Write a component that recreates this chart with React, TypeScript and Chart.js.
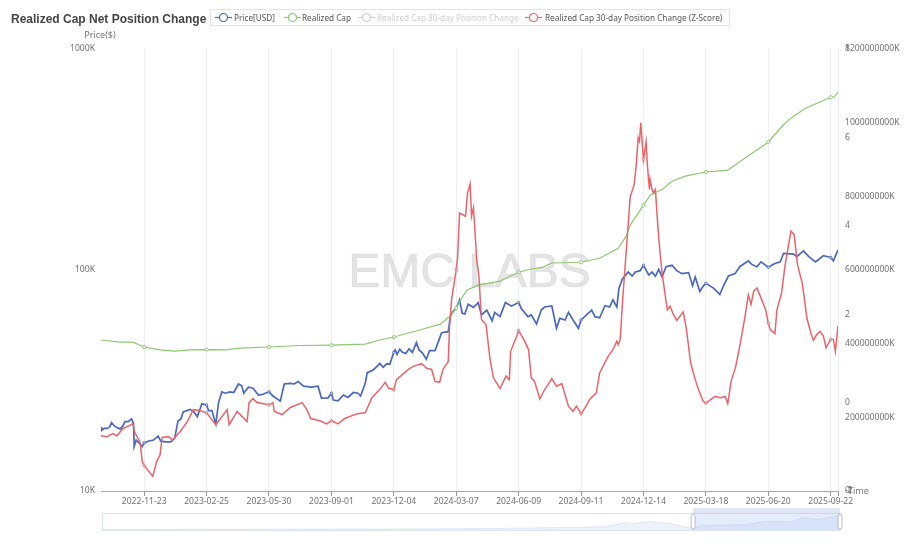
// App.tsx
import React, { useEffect, useRef } from "react";
import { Chart, registerables } from "chart.js";

Chart.register(...registerables);

const FONT = '"Noto Sans", sans-serif';
const START_DATE = Date.UTC(2022, 8, 19);
const LAST_DAY = 1110;

// x values are days since START_DATE
const tickDays = [65, 159, 253, 347, 441, 535, 629, 723, 817, 911, 1005, 1099];
const priceTicks = [10, 100, 1000];

const priceDays = [
	0, 1, 5, 9, 13, 16, 20, 25, 29, 33,
	36, 41, 46, 49, 50, 53, 58, 62, 65, 71,
	79, 86, 90, 98, 105, 111, 116, 120, 124, 134,
	140, 145, 152, 159, 162, 167, 173, 177, 182, 187,
	194, 200, 207, 212, 215, 222, 229, 237, 244, 253,
	259, 270, 276, 285, 291, 297, 305, 317, 327, 332,
	342, 347, 350, 357, 365, 372, 380, 387, 391, 398,
	401, 410, 418, 420, 425, 430, 435, 441, 443, 446,
	450, 454, 459, 464, 469, 475, 479, 484, 490, 495,
	503, 508, 513, 523, 526, 530, 535, 540, 544, 548,
	553, 561, 568, 573, 581, 589, 593, 601, 609, 618,
	629, 633, 643, 648, 656, 663, 668, 679, 686, 691,
	699, 704, 711, 719, 723, 739, 744, 751, 759, 766,
	771, 777, 780, 785, 794, 800, 805, 812, 817, 825,
	830, 835, 840, 845, 851, 860, 867, 875, 885, 891,
	895, 902, 907, 911, 923, 932, 938, 945, 955, 962,
	975, 980, 988, 994, 1005, 1015, 1023, 1028, 1043, 1048,
	1058, 1066, 1076, 1088, 1099, 1103, 1110,
];
const priceValues = [
	19.5, 18.8, 19.2, 19.2, 19.5, 20.4, 19.7, 19.3, 19.1, 19.7,
	20.6, 20.6, 21.2, 20.2, 15.9, 17, 16.4, 15.9, 16.5, 16.8,
	17, 17.7, 16.8, 16.7, 16.7, 17.3, 20.8, 21.1, 22.8, 23.4,
	22.8, 21.7, 24.8, 24.5, 23.1, 23.1, 20.1, 25.1, 28.1, 27.7,
	28.1, 27.9, 30.5, 29.9, 27.7, 29.5, 29.2, 27.2, 27.4, 28.1,
	26.9, 25.5, 30.5, 30.7, 30.5, 31.3, 29.8, 29.5, 29.8, 26.3,
	26.4, 27.7, 25.8, 25.6, 27.2, 26.5, 27.9, 27.7, 26.9, 30.7,
	34.3, 35.3, 37.2, 37.8, 36.3, 37.6, 37.5, 42.4, 43.5, 41.5,
	43.8, 42.4, 41.9, 44, 42.4, 46.9, 43.5, 42.2, 39.5, 43.2,
	43.2, 47.3, 52, 52.6, 61.5, 64.8, 67, 73.2, 63.7, 63.2,
	70, 67.7, 71.2, 62.6, 65.9, 59, 64.3, 61.5, 71.2, 68.7,
	71.2, 67, 61.5, 62.6, 57, 65.9, 68, 68.7, 54.5, 60.4,
	59.4, 64.3, 59.4, 54.5, 59.4, 65.9, 61.5, 60.8, 68.9, 68,
	73.2, 68, 82.6, 90.7, 97.9, 93.9, 97.9, 99.3, 105, 94.9,
	97.9, 93.7, 100.7, 92.9, 103.5, 105, 99.3, 96.3, 97.3, 84.9,
	92.9, 80, 84.6, 87, 82.6, 77.5, 85.5, 93.9, 96.3, 103.5,
	110, 106, 103.5, 108.9, 102.9, 107, 108.9, 119, 118, 115,
	122, 115, 108.9, 116, 114, 110, 123,
];

const capDays = [
	0, 29, 48, 65, 89, 111, 134, 159, 187, 209, 253, 300, 347, 398, 420, 441, 480, 511, 526, 535, 541, 551, 568, 601, 629,
	646, 666, 679, 723, 751, 779, 791, 797, 817, 827, 846, 860, 880, 911, 944, 970, 1005, 1027, 1041, 1061, 1099, 1104,
	1110,
];
const capValues = [
	410, 404, 404, 391, 383, 380, 383, 384, 383, 388, 391, 395, 396, 399, 410, 418, 437, 453, 475, 497, 518, 545, 559, 570,
	594, 602, 608, 619, 621, 632, 659, 692, 722, 776, 803, 820, 841, 855, 866, 871, 904, 947, 993, 1015, 1039, 1069, 1069,
	1083,
];

const zDays = [
	0, 9, 18, 24, 33, 48, 51, 59, 62, 65,
	78, 84, 89, 92, 101, 108, 119, 130, 139, 149,
	159, 173, 190, 193, 205, 220, 223, 229, 235, 253,
	259, 261, 273, 285, 303, 310, 316, 330, 340, 347,
	357, 367, 386, 398, 408, 420, 428, 433, 441, 445,
	463, 470, 483, 490, 498, 503, 510, 515, 523, 525,
	528, 535, 537, 540, 545, 549, 552, 556, 558, 561,
	566, 569, 573, 580, 586, 591, 601, 610, 615, 617,
	626, 629, 638, 644, 648, 653, 661, 668, 679, 686,
	694, 704, 711, 716, 723, 729, 736, 746, 751, 764,
	771, 777, 779, 782, 786, 792, 797, 803, 806, 809,
	811, 813, 815, 817, 821, 823, 826, 827, 830, 832,
	835, 838, 840, 842, 845, 850, 853, 857, 861, 867,
	877, 881, 885, 888, 895, 900, 907, 911, 925, 933,
	940, 944, 949, 956, 963, 970, 975, 979, 983, 988,
	995, 1001, 1005, 1008, 1015, 1018, 1025, 1030, 1036, 1039,
	1044, 1049, 1056, 1059, 1063, 1069, 1073, 1078, 1083, 1088,
	1092, 1099, 1103, 1106, 1110,
];
const zValues = [
	-0.75, -0.77, -0.7, -0.75, -0.59, -0.48, -0.68, -0.9, -1.33, -1.42,
	-1.67, -1.33, -1.18, -0.79, -0.77, -0.84, -0.66, -0.43, -0.16, -0.18,
	-0.23, -0.5, -0.16, -0.5, -0.2, -0.43, 0, 0.09, 0, -0.05,
	0, -0.2, -0.27, -0.11, 0, -0.16, -0.36, -0.41, -0.48, -0.41,
	-0.48, -0.36, -0.25, -0.23, 0.11, 0.3, 0.46, 0.33, 0.29, 0.52,
	0.75, 0.82, 0.88, 0.78, 0.75, 0.48, 0.46, 0.75, 0.93, 1.73,
	2.33, 3.01, 3.27, 4.29, 4.25, 4.21, 4.74, 4.95, 4.21, 4.41,
	3.21, 2.9, 1.88, 1.76, 0.97, 0.56, 0.32, 0.6, 0.52, 1.16,
	1.5, 1.63, 1.39, 1.2, 0.56, 0.48, 0.08, 0.29, 0.54, 0.37,
	0.43, -0.08, -0.2, -0.08, -0.25, -0.12, 0.07, 0.22, 0.67, 1.05,
	1.2, 1.39, 1.31, 1.43, 2.4, 3.61, 4.65, 4.93, 5.35, 5.99,
	5.91, 6.33, 5.91, 5.5, 5.9, 5.35, 4.82, 5.05, 4.82, 4.74,
	4.82, 4.14, 3.73, 3.39, 2.94, 2.4, 2.1, 2.18, 2.03, 1.86,
	2.05, 1.73, 1.27, 0.9, 0.52, 0.29, 0.03, -0.01, 0.14, 0.11,
	0.14, -0.02, 0.48, 0.82, 1.35, 1.95, 2.44, 2.22, 2.52, 2.59,
	2.33, 2.1, 1.8, 1.65, 1.56, 2.1, 2.48, 3.08, 3.61, 3.88,
	3.8, 3.12, 2.71, 2.4, 1.92, 1.58, 1.41, 1.54, 1.61, 1.5,
	1.24, 1.43, 1.43, 1.16, 1.74,
];

// navigator strip under the chart, x in percent of the full history
const overviewPercent = [0, 40, 54, 68, 71, 72, 74, 77, 80, 81, 87, 90, 93.6, 95, 97, 100];
const overviewPrice = [4, 8, 12, 24, 57, 49, 65, 49, 12, 32, 40, 65, 65, 97, 81, 113];
const overviewWindow = [80.1, 100];

const legendItems = [
	{ name: "Price[USD]", color: "#4a68bd", left: 4, textLeft: 23 },
	{ name: "Realized Cap", color: "#8cc870", left: 73, textLeft: 91 },
	{ name: "Realized Cap 30-day Position Change", color: "#cfcfcf", textColor: "#d0d0d0", left: 147, textLeft: 166 },
	{ name: "Realized Cap 30-day Position Change (Z-Score)", color: "#e9636b", left: 314, textLeft: 334 },
];

const zip = (xs: number[], ys: number[]) => xs.map((x, i) => ({ x, y: ys[i] }));

const formatDay = (day: number) => new Date(START_DATE + day * 86400000).toISOString().slice(0, 10);

const tickMarker = (size: number) => (ctx: any) => (tickDays.includes(ctx.raw?.x) ? size : 0);

const extrasPlugin = {
	id: "extras",
	afterLayout(chart: any) {
		// the Z-Score axis shares its place with the cap axis, give it room so its labels are not clipped
		chart.scales.z.right = chart.width;
	},
	beforeDatasetsDraw(chart: any) {
		const { ctx, chartArea } = chart;
		ctx.save();
		// watermark
		ctx.font = `48px "Liberation Sans", sans-serif`;
		ctx.fillStyle = "rgba(205,205,205,0.55)";
		ctx.strokeStyle = "rgba(205,205,205,0.55)";
		ctx.lineWidth = 0.7;
		ctx.textAlign = "center";
		ctx.textBaseline = "middle";
		ctx.fillText("EMC LABS", (chartArea.left + chartArea.right) / 2, 274);
		ctx.strokeText("EMC LABS", (chartArea.left + chartArea.right) / 2, 274);
		// axis names
		ctx.font = `9px ${FONT}`;
		ctx.fillStyle = "#777";
		ctx.textAlign = "center";
		ctx.fillText("Price($)", 100, 35);
		ctx.textAlign = "left";
		ctx.fillText("Time", 848, chartArea.bottom);
		ctx.restore();
	},
};

const navigatorPlugin = {
	id: "navigator",
	beforeDatasetsDraw(chart: any) {
		const { ctx, chartArea } = chart;
		ctx.save();
		ctx.strokeStyle = "#dfe3ea";
		ctx.strokeRect(chartArea.left + 0.5, chartArea.top + 0.5, chartArea.right - chartArea.left, chartArea.bottom - chartArea.top);
		ctx.restore();
	},
	afterDatasetsDraw(chart: any) {
		const { ctx, chartArea, scales } = chart;
		const x0 = scales.x.getPixelForValue(overviewWindow[0]);
		const x1 = scales.x.getPixelForValue(overviewWindow[1]);
		ctx.save();
		ctx.fillStyle = "rgba(135,175,244,0.22)";
		ctx.fillRect(x0, chartArea.top, x1 - x0, chartArea.bottom - chartArea.top);
		ctx.fillStyle = "#dfe5f3";
		ctx.fillRect(x0, chartArea.top - 5, x1 - x0, 5);
		[x0, x1].forEach((x) => {
			ctx.beginPath();
			ctx.roundRect(x - 2, chartArea.top + 1, 4, chartArea.bottom - chartArea.top - 2, 2);
			ctx.fillStyle = "#fff";
			ctx.fill();
			ctx.strokeStyle = "#b5bdcc";
			ctx.stroke();
		});
		ctx.restore();
	},
};

const tickFont = { family: FONT, size: 8.6 };

const App: React.FC = () => {
	const chartRef = useRef<HTMLCanvasElement>(null);
	const overviewRef = useRef<HTMLCanvasElement>(null);

	useEffect(() => {
		if (!chartRef.current || !overviewRef.current) return;

		const lineStyle = { fill: false, tension: 0, pointBackgroundColor: "#fff", pointBorderWidth: 1 };

		const myChart = new Chart(chartRef.current, {
			type: "line",
			data: {
				datasets: [
					{
						...lineStyle,
						label: "Price[USD]",
						data: zip(priceDays, priceValues),
						yAxisID: "price",
						borderColor: "#4a68bd",
						borderWidth: 1.7,
						pointRadius: tickMarker(1.2),
						order: 3,
					},
					{
						...lineStyle,
						label: "Realized Cap",
						data: zip(capDays, capValues),
						yAxisID: "cap",
						borderColor: "#8cc870",
						borderWidth: 1.2,
						pointRadius: tickMarker(1.6),
						order: 2,
					},
					{
						label: "Realized Cap 30-day Position Change",
						data: [],
						yAxisID: "z",
						hidden: true,
					},
					{
						...lineStyle,
						label: "Realized Cap 30-day Position Change (Z-Score)",
						data: zip(zDays, zValues),
						yAxisID: "z",
						borderColor: "#e9636b",
						borderWidth: 1.5,
						pointRadius: tickMarker(1.2),
						order: 1,
					},
				],
			},
			options: {
				responsive: false,
				animation: false,
				parsing: false,
				layout: { padding: { top: 49 } },
				plugins: { legend: { display: false }, tooltip: { enabled: false } },
				scales: {
					x: {
						type: "linear",
						min: 0,
						max: LAST_DAY,
						afterBuildTicks: (scale: any) => {
							scale.ticks = [...tickDays, LAST_DAY].map((value) => ({ value }));
						},
						afterFit: (scale: any) => {
							scale.height = 55;
						},
						ticks: {
							autoSkip: false,
							maxRotation: 0,
							minRotation: 0,
							font: tickFont,
							color: "#707070",
							padding: 0,
							callback: (value: any) => (tickDays.includes(value) ? formatDay(value) : ""),
						},
						grid: { color: "#eceef2", tickColor: "#999", tickLength: 5 },
						border: { color: "#a8a8a8" },
					},
					price: {
						type: "logarithmic",
						position: "left",
						min: 10,
						max: 1000,
						afterBuildTicks: (scale: any) => {
							scale.ticks = priceTicks.map((value) => ({ value }));
						},
						afterFit: (scale: any) => {
							scale.width = 101;
						},
						ticks: { font: tickFont, color: "#707070", padding: 6, callback: (value: any) => `${value}K` },
						grid: { display: false, drawTicks: false },
						border: { display: false },
					},
					cap: {
						position: "right",
						min: 0,
						max: 1200,
						afterFit: (scale: any) => {
							scale.width = 66;
						},
						ticks: {
							stepSize: 200,
							font: tickFont,
							color: "#707070",
							padding: 7,
							callback: (value: any) => (value === 0 ? "0" : `${value}000000K`),
						},
						grid: { display: false, drawTicks: false },
						border: { display: false },
					},
					z: {
						position: "right",
						weight: -1,
						min: -2,
						max: 8,
						afterFit: (scale: any) => {
							scale.width = 0;
						},
						ticks: { stepSize: 2, font: tickFont, color: "#707070", padding: 7 },
						grid: { display: false, drawTicks: false },
						border: { display: false },
					},
				},
			},
			plugins: [extrasPlugin],
		} as any);

		const overview = new Chart(overviewRef.current, {
			type: "line",
			data: {
				datasets: [
					{
						data: zip(overviewPercent, overviewPrice),
						borderColor: "rgba(190,205,235,0.6)",
						borderWidth: 0.7,
						backgroundColor: "rgba(205,216,240,0.35)",
						fill: "origin",
						pointRadius: 0,
						tension: 0,
					},
				],
			},
			options: {
				responsive: false,
				animation: false,
				parsing: false,
				layout: { padding: { left: 4, right: 6, top: 8, bottom: 5 } },
				plugins: { legend: { display: false }, tooltip: { enabled: false } },
				scales: {
					x: { type: "linear", display: false, min: 0, max: 100 },
					y: { display: false, min: 0, max: 130 },
				},
			},
			plugins: [navigatorPlugin],
		} as any);

		return () => {
			myChart.destroy();
			overview.destroy();
		};
	}, []);

	return (
		<div style={{ position: "fixed", left: 0, top: 0, width: 904, height: 546, overflow: "hidden", background: "#fff", fontFamily: FONT }}>
			<canvas ref={chartRef} width={904} height={546} style={{ position: "absolute", left: 0, top: 0 }} />
			<canvas ref={overviewRef} width={748} height={30} style={{ position: "absolute", left: 98, top: 505 }} />
			<div style={{ position: "absolute", left: 11, top: 10, fontFamily: '"Liberation Sans", sans-serif', fontSize: 12, fontWeight: 700, color: "#444", whiteSpace: "nowrap", lineHeight: "18px" }}>
				Realized Cap Net Position Change
			</div>
			<div style={{ position: "absolute", left: 210, top: 9, width: 518, height: 15, border: "1px solid #e4e4e4" }}>
				{legendItems.map((item) => (
					<React.Fragment key={item.name}>
						<svg width={17} height={11} style={{ position: "absolute", left: item.left, top: 2 }}>
							<line x1={0} y1={5.5} x2={17} y2={5.5} stroke={item.color} strokeWidth={1.2} />
							<circle cx={8.5} cy={5.5} r={4} fill="#fff" stroke={item.color} strokeWidth={1.2} />
						</svg>
						<span style={{ position: "absolute", left: item.textLeft, top: 0, fontSize: 8.2, lineHeight: "15px", color: item.textColor ?? "#555", whiteSpace: "nowrap" }}>
							{item.name}
						</span>
					</React.Fragment>
				))}
			</div>
		</div>
	);
};

export default App;
